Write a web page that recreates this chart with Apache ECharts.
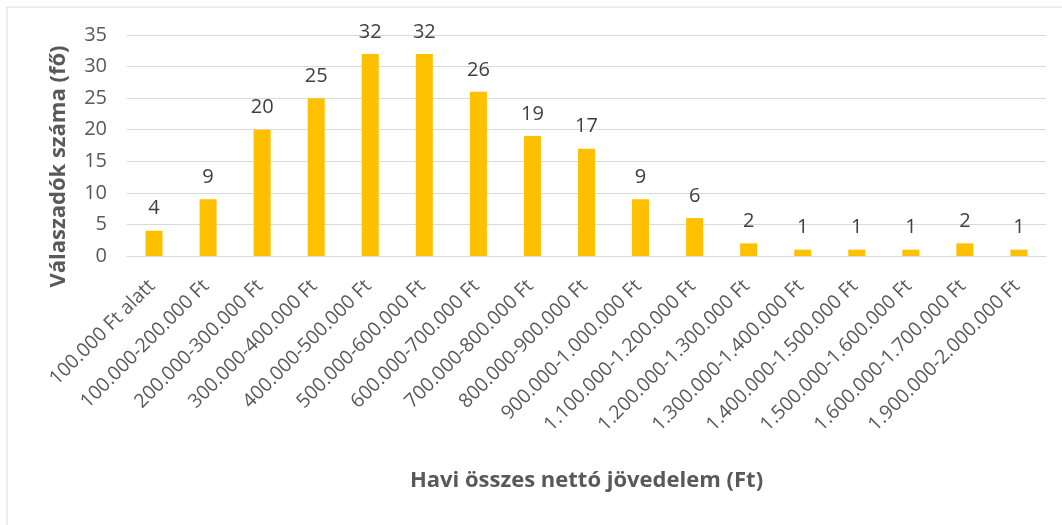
<!DOCTYPE html>
<html>
<head>
<meta charset="utf-8">
<script src="https://cdn.jsdelivr.net/npm/echarts@6/dist/echarts.min.js"></script>
<style>
  html, body { margin: 0; padding: 0; background: #fff; }
  #main { width: 1062px; height: 525px; }
</style>
</head>
<body>
<div id="main"></div>
<script>
var categories = [
  '100.000 Ft alatt',
  '100.000-200.000 Ft',
  '200.000-300.000 Ft',
  '300.000-400.000 Ft',
  '400.000-500.000 Ft',
  '500.000-600.000 Ft',
  '600.000-700.000 Ft',
  '700.000-800.000 Ft',
  '800.000-900.000 Ft',
  '900.000-1.000.000 Ft',
  '1.100.000-1.200.000 Ft',
  '1.200.000-1.300.000 Ft',
  '1.300.000-1.400.000 Ft',
  '1.400.000-1.500.000 Ft',
  '1.500.000-1.600.000 Ft',
  '1.600.000-1.700.000 Ft',
  '1.900.000-2.000.000 Ft'
];
var counts = [4, 9, 20, 25, 32, 32, 26, 19, 17, 9, 6, 2, 1, 1, 1, 2, 1];

var FONT = '"Open Sans", "Liberation Sans", sans-serif';
var TEXT = '#595959';

var myChart = echarts.init(document.getElementById('main'));

var option = {
  animation: false,
  graphic: [{
    type: 'rect',
    shape: { x: 7, y: 7, width: 1070, height: 530 },
    style: { fill: 'none', stroke: '#d9d9d9', lineWidth: 1 }
  }],
  grid: { left: 127, right: 16, top: 35, bottom: 269, containLabel: false },
  xAxis: {
    type: 'category',
    data: categories,
    name: 'Havi összes nettó jövedelem (Ft)',
    nameLocation: 'middle',
    nameGap: 214,
    nameTextStyle: { fontFamily: FONT, fontSize: 22, fontWeight: 'bold', color: TEXT },
    axisLine: { lineStyle: { color: '#d9d9d9', width: 1 } },
    axisTick: { show: false },
    axisLabel: {
      rotate: 45,
      interval: 0,
      margin: 25,
      padding: [0, 3, 0, 0],
      fontFamily: FONT,
      fontSize: 19.5,
      color: TEXT
    }
  },
  yAxis: {
    type: 'value',
    min: 0,
    max: 35,
    interval: 5,
    name: 'Válaszadók száma (fő)',
    nameLocation: 'middle',
    nameGap: 57,
    nameTextStyle: {
      fontFamily: FONT, fontSize: 22, fontWeight: 'bold', color: TEXT,
      padding: [0, 42, 0, 0]
    },
    axisLine: { show: false },
    axisTick: { show: false },
    axisLabel: { fontFamily: FONT, fontSize: 20, color: TEXT, margin: 20 },
    splitLine: { lineStyle: { color: '#d9d9d9', width: 1 } }
  },
  series: [{
    type: 'bar',
    data: counts,
    barWidth: 17,
    itemStyle: { color: '#ffc000' },
    label: {
      show: true,
      position: 'top',
      distance: 12,
      fontFamily: FONT,
      fontSize: 20,
      color: '#404040'
    }
  }]
};

myChart.setOption(option);
</script>
</body>
</html>
